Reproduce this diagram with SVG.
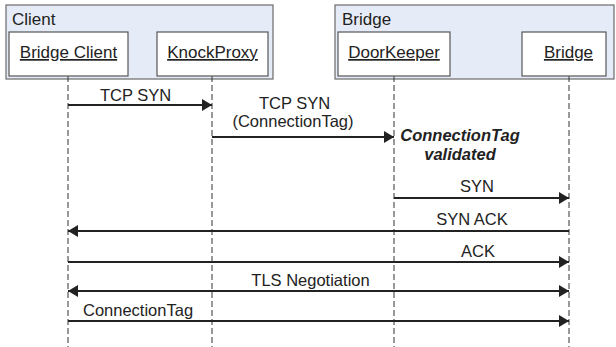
<svg xmlns="http://www.w3.org/2000/svg" width="616" height="347" viewBox="0 0 616 347">
<style>
.frame{fill:#e6ecf7;stroke:#6a6a6a;stroke-width:1.2}
.box{fill:#fff;stroke:#555;stroke-width:1.2}
.t{font-family:"Liberation Sans",Arial,sans-serif;fill:#222}
.hdr{font-size:17px}
.lbl{font-size:17px;text-decoration:underline}
.msg{font-size:16.5px}
.note{font-size:16.5px;font-weight:bold;font-style:italic}
.life{stroke:#333;stroke-width:1;stroke-dasharray:6,3;fill:none}
.m{stroke:#222;stroke-width:2;fill:none}
</style>
<defs>
<marker id="ah" markerUnits="userSpaceOnUse" markerWidth="11" markerHeight="13" refX="10" refY="6" orient="auto-start-reverse" viewBox="0 0 11 13">
<path d="M0,0 L10,6 L0,12 z" fill="#222"/>
</marker>
</defs>
<g id="client-frame">
<rect class="frame" x="6" y="5" width="267" height="74"/>
<text class="t hdr" x="12" y="25">Client</text>
</g>
<g id="bridge-frame">
<rect class="frame" x="335" y="5" width="279" height="74"/>
<text class="t hdr" x="342" y="25">Bridge</text>
</g>
<g id="lifelines">
<line class="life" x1="68" y1="76" x2="68" y2="347"/>
<line class="life" x1="212" y1="76" x2="212" y2="347"/>
<line class="life" x1="394" y1="76" x2="394" y2="347"/>
<line class="life" x1="569" y1="76" x2="569" y2="347"/>
</g>
<g id="bridge-client">
<rect class="box" x="9" y="32" width="119" height="44"/>
<text class="t lbl" x="68.5" y="58" text-anchor="middle">Bridge Client</text>
</g>
<g id="knockproxy">
<rect class="box" x="157" y="32" width="111" height="44"/>
<text class="t lbl" x="212.5" y="58" text-anchor="middle">KnockProxy</text>
</g>
<g id="doorkeeper">
<rect class="box" x="338" y="32" width="112" height="44"/>
<text class="t lbl" x="394" y="58" text-anchor="middle">DoorKeeper</text>
</g>
<g id="bridge">
<rect class="box" x="522" y="32" width="84" height="44"/>
<text class="t lbl" x="568.5" y="58" text-anchor="middle">Bridge</text>
</g>
<g id="connectors">
<line class="m" x1="68" y1="105" x2="212" y2="105" marker-end="url(#ah)"/>
<line class="m" x1="212" y1="137" x2="394" y2="137" marker-end="url(#ah)"/>
<line class="m" x1="394" y1="198" x2="569" y2="198" marker-end="url(#ah)"/>
<line class="m" x1="569" y1="231" x2="68" y2="231" marker-end="url(#ah)"/>
<line class="m" x1="68" y1="262" x2="569" y2="262" marker-end="url(#ah)"/>
<line class="m" x1="68" y1="291" x2="569" y2="291" marker-start="url(#ah)" marker-end="url(#ah)"/>
<line class="m" x1="68" y1="321" x2="569" y2="321" marker-end="url(#ah)"/>
</g>
<g id="labels">
<text class="t msg" x="135.5" y="101" text-anchor="middle">TCP SYN</text>
<text class="t msg" x="294.5" y="109" text-anchor="middle">TCP SYN</text>
<text class="t msg" x="293" y="127" text-anchor="middle">(ConnectionTag)</text>
<text class="t note" x="460" y="141" text-anchor="middle">ConnectionTag</text>
<text class="t note" x="460" y="160" text-anchor="middle">validated</text>
<text class="t msg" x="477" y="192" text-anchor="middle">SYN</text>
<text class="t msg" x="472" y="225" text-anchor="middle">SYN ACK</text>
<text class="t msg" x="478" y="257" text-anchor="middle">ACK</text>
<text class="t msg" x="310.5" y="286" text-anchor="middle">TLS Negotiation</text>
<text class="t msg" x="83" y="316">ConnectionTag</text>
</g>
</svg>
